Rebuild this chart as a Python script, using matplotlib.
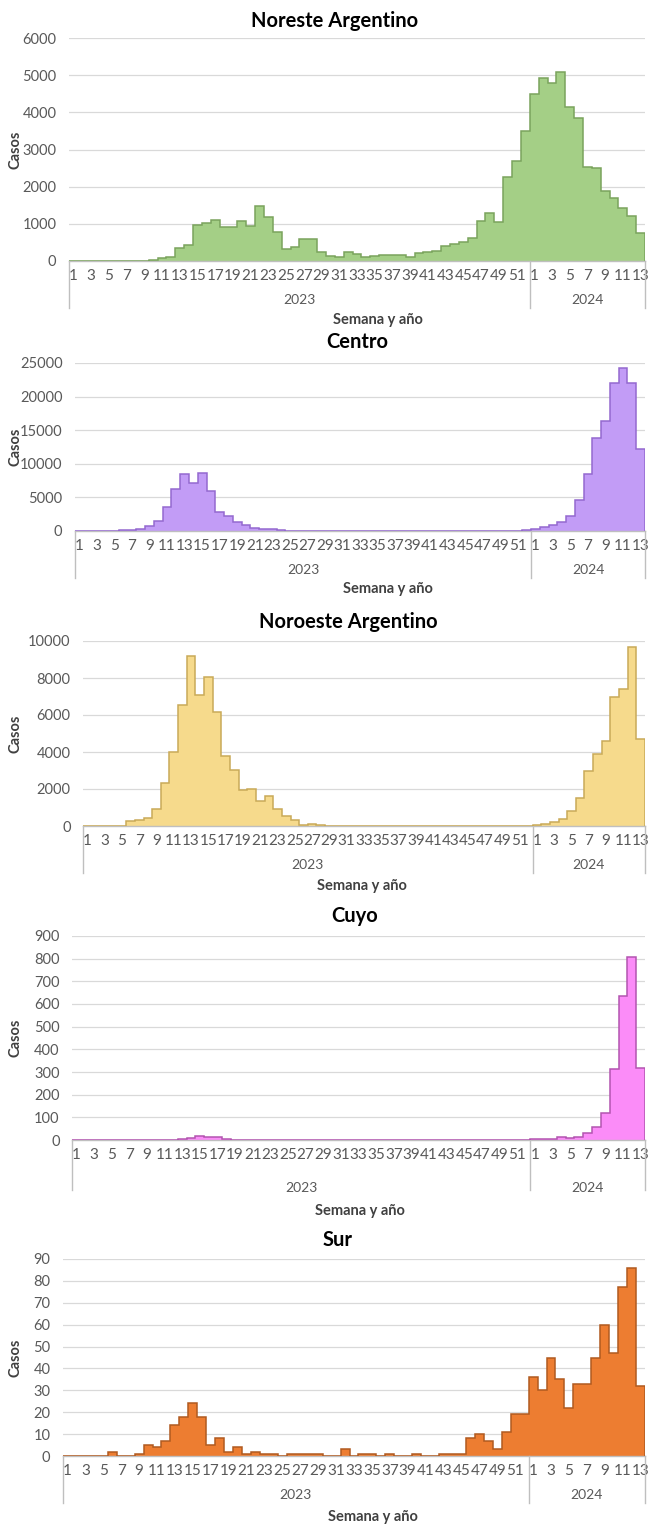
import matplotlib
matplotlib.use("Agg")
import matplotlib.pyplot as plt

plt.rcParams['font.family'] = ['Lato', 'DejaVu Sans']

W, H = 648, 1526

semanas_2023 = list(range(1, 53))
semanas_2024 = list(range(1, 14))
anios = ["2023", "2024"]

noreste = [0, 0, 0, 0, 0, 0, 0, 0, 10, 30, 80, 120, 360, 430, 980, 1010,
           1100, 920, 920, 1070, 930, 1480, 1190, 790, 320, 370, 580, 590,
           240, 140, 120, 230, 190, 120, 130, 160, 160, 150, 120, 220, 240,
           270, 400, 470, 500, 620, 1080, 1300, 1050, 2250, 2700, 3500,
           4500, 4920, 4800, 5080, 4150, 3850, 2530, 2500, 1880, 1700, 1420,
           1200, 750]

centro = [0, 0, 0, 0, 50, 150, 200, 350, 700, 1500, 3500, 6200, 8500, 7100,
          8700, 6000, 2800, 2200, 1400, 900, 400, 350, 250, 150, 60, 30, 20,
          20, 20, 20, 20, 20, 20, 20, 20, 20, 20, 20, 20, 20, 20, 20, 20, 20,
          20, 20, 20, 20, 20, 30, 50, 150,
          300, 600, 900, 1300, 2200, 4600, 8500, 13800, 16400, 22000, 24300,
          22000, 12200]

noroeste = [0, 0, 0, 0, 0, 250, 350, 450, 900, 2300, 4000, 6550, 9200, 7100,
            8050, 6150, 3800, 3050, 1950, 2000, 1350, 1600, 900, 550, 350, 80,
            100, 60, 10, 10, 10, 10, 10, 10, 10, 10, 10, 10, 10, 10, 10, 10,
            10, 10, 10, 10, 10, 10, 10, 10, 10, 10,
            30, 100, 200, 400, 800, 1500, 3000, 3900, 4600, 7000, 7400, 9700,
            4700]

cuyo = [0, 0, 0, 0, 0, 0, 0, 0, 0, 0, 0, 1, 3, 10, 18, 14, 12, 4, 1, 1, 1,
        1, 1, 1, 1, 1, 1, 1, 1, 1, 1, 1, 1, 1, 1, 1, 1, 1, 1, 1, 1, 1, 1, 1,
        1, 1, 1, 1, 1, 1, 1, 1,
        3, 3, 4, 15, 8, 15, 33, 57, 118, 315, 635, 808, 318]

sur = [0, 0, 0, 0, 0, 2, 0, 0, 1, 5, 4, 7, 14, 18, 24, 18, 5, 8, 2, 4, 1, 2,
       1, 1, 0, 1, 1, 1, 1, 0, 0, 3, 0, 1, 1, 0, 1, 0, 0, 1, 0, 0, 1, 1, 1,
       8, 10, 7, 3, 11, 19, 19,
       36, 30, 45, 35, 22, 33, 33, 45, 60, 47, 77, 86, 32]

# panel boxes in pixels: left, right, top (ymax), bottom (0)
paneles = [
    dict(titulo="Noreste Argentino", vals=noreste, ymax=6000, paso=1000,
         box=(69, 645, 38, 261), fill="#a4cf86", edge="#7aa35d",
         tx=335, ty=21, ly=320, lx=378),
    dict(titulo="Centro", vals=centro, ymax=25000, paso=5000,
         box=(75, 645, 363, 531), fill="#c29cf6", edge="#9469cf",
         tx=357, ty=342, ly=589, lx=388),
    dict(titulo="Noroeste Argentino", vals=noroeste, ymax=10000, paso=2000,
         box=(83, 645, 641, 826), fill="#f6da8c", edge="#c9aa58",
         tx=348, ty=622, ly=886, lx=362),
    dict(titulo="Cuyo", vals=cuyo, ymax=900, paso=100,
         box=(72, 645, 936, 1140), fill="#fb8cf8", edge="#b355b0",
         tx=355, ty=916, ly=1211, lx=360),
    dict(titulo="Sur", vals=sur, ymax=90, paso=10,
         box=(63, 645, 1259, 1456), fill="#ed7d31", edge="#b05a20",
         tx=338, ty=1240, ly=1517, lx=373),
]

etiquetas = [str(s) for s in semanas_2023] + [str(s) for s in semanas_2024]
n = len(etiquetas)
xs = list(range(n))
n23 = len(semanas_2023)

fig = plt.figure(figsize=(W / 100, H / 100), dpi=100)

for p in paneles:
    x0, x1, yt, yb = p["box"]
    ax = fig.add_axes([x0 / W, 1 - yb / H, (x1 - x0) / W, (yb - yt) / H])
    vals = p["vals"]

    ax.bar(xs, vals, width=1.0, color=p["fill"], linewidth=0, zorder=2)
    edges = [x - 0.5 for x in xs] + [xs[-1] + 0.5]
    ax.stairs(vals, edges, color=p["edge"], linewidth=1.1, baseline=0,
              zorder=3)

    ax.set_xlim(-0.5, n - 0.5)
    ax.set_ylim(0, p["ymax"])
    ax.set_yticks(range(0, p["ymax"] + 1, p["paso"]))
    ax.yaxis.grid(True, color="#d9d9d9", linewidth=0.9)
    ax.set_axisbelow(True)
    for s in ["left", "right", "top"]:
        ax.spines[s].set_visible(False)
    ax.spines["bottom"].set_color("#bfbfbf")
    ax.spines["bottom"].set_linewidth(1.0)

    ticks = [i for i, e in enumerate(etiquetas) if int(e) % 2 == 1]
    ax.set_xticks(ticks, [etiquetas[i] for i in ticks])
    ax.tick_params(axis="x", length=0, pad=6, labelsize=11,
                   labelcolor="#595959")
    ax.tick_params(axis="y", length=0, pad=9, labelsize=10.5,
                   labelcolor="#595959")

    # category groups under the week labels
    k = p["ymax"] / (yb - yt)
    prof = 50 if p["titulo"] == "Cuyo" else 47
    for xb in [-0.5, n23 - 0.5, n - 0.5]:
        ax.plot([xb, xb], [0, -prof * k], color="#bfbfbf", linewidth=1.0,
                clip_on=False)
    yoff = 48 if p["titulo"] == "Cuyo" else 39
    ax.text((n23 - 1) / 2, -yoff * k, anios[0], ha="center", va="center",
            fontsize=10, color="#595959", clip_on=False)
    ax.text(n23 + (n - n23 - 1) / 2, -yoff * k, anios[1], ha="center",
            va="center", fontsize=10, color="#595959", clip_on=False)

    fig.text(p["tx"] / W, 1 - p["ty"] / H, p["titulo"], ha="center",
             va="center", fontsize=14.5, fontweight="bold", color="black")
    fig.text(15 / W, 1 - (yt + yb) / 2 / H, "Casos", rotation=90,
             ha="center", va="center", fontsize=10.5, fontweight="bold",
             color="#404040")
    fig.text(p["lx"] / W, 1 - p["ly"] / H, "Semana y año", ha="center",
             va="center", fontsize=10.5, fontweight="bold", color="#404040")

fig.savefig("out.png", dpi=100, facecolor="white")
